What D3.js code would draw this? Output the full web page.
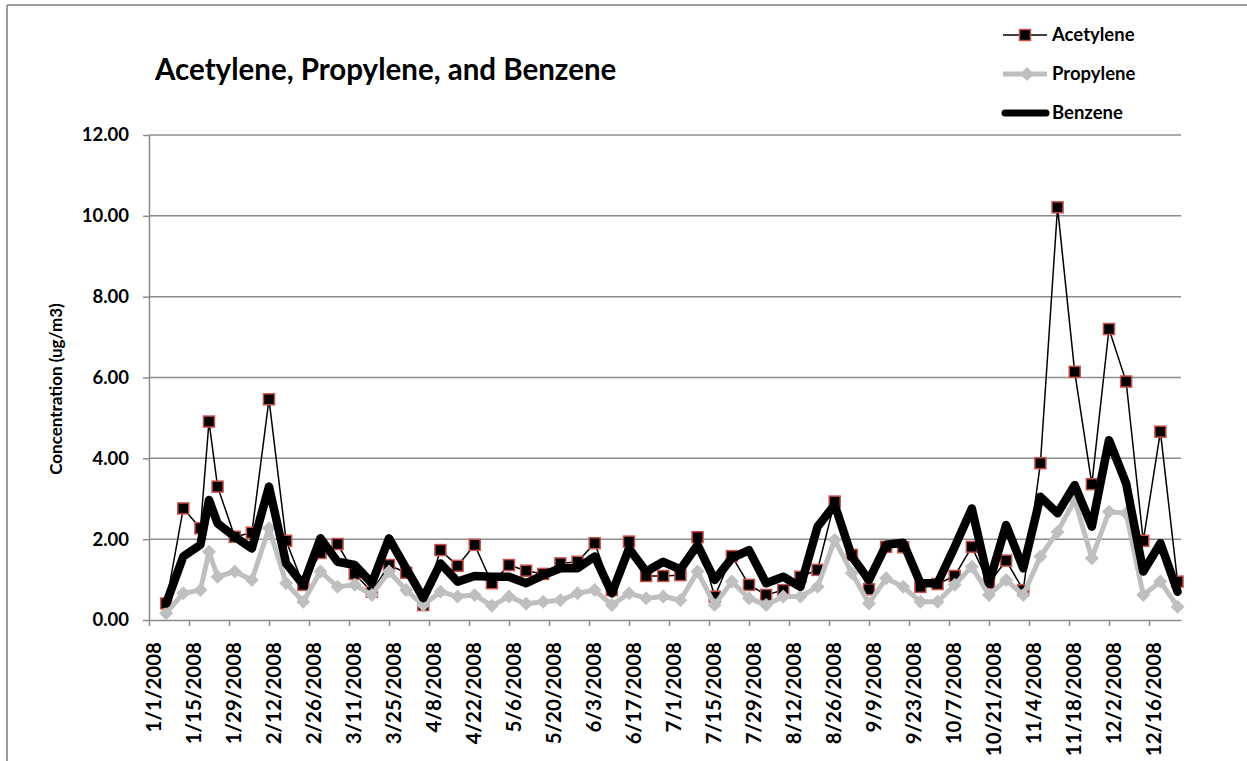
<!DOCTYPE html>
<html>
<head>
<meta charset="utf-8">
<script src="https://cdn.jsdelivr.net/npm/d3@7"></script>
<style>
  body { margin: 0; background: #fff; }
  svg text { font-family: Lato, "Open Sans", sans-serif; font-weight: bold; fill: #000; }
</style>
</head>
<body>
<div id="chart"></div>
<script>
// sample dates (1-in-6 day schedule, plus one extra in January)
var dates = [
  "1/7/2008", "1/13/2008", "1/19/2008", "1/22/2008", "1/25/2008", "1/31/2008",
  "2/6/2008", "2/12/2008", "2/18/2008", "2/24/2008",
  "3/1/2008", "3/7/2008", "3/13/2008", "3/19/2008", "3/25/2008", "3/31/2008",
  "4/6/2008", "4/12/2008", "4/18/2008", "4/24/2008", "4/30/2008",
  "5/6/2008", "5/12/2008", "5/18/2008", "5/24/2008", "5/30/2008",
  "6/5/2008", "6/11/2008", "6/17/2008", "6/23/2008", "6/29/2008",
  "7/5/2008", "7/11/2008", "7/17/2008", "7/23/2008", "7/29/2008",
  "8/4/2008", "8/10/2008", "8/16/2008", "8/22/2008", "8/28/2008",
  "9/3/2008", "9/9/2008", "9/15/2008", "9/21/2008", "9/27/2008",
  "10/3/2008", "10/9/2008", "10/15/2008", "10/21/2008", "10/27/2008",
  "11/2/2008", "11/8/2008", "11/14/2008", "11/20/2008", "11/26/2008",
  "12/2/2008", "12/8/2008", "12/14/2008", "12/20/2008", "12/26/2008"
];

var acetylene = [
  0.41, 2.76, 2.27, 4.91, 3.3, 2.06,
  2.16, 5.46, 1.96, 0.87,
  1.66, 1.88, 1.14, 0.7, 1.36, 1.17,
  0.37, 1.73, 1.34, 1.86, 0.91,
  1.36, 1.22, 1.14, 1.4, 1.44,
  1.9, 0.74, 1.94, 1.09, 1.09,
  1.11, 2.05, 0.58, 1.58, 0.87,
  0.62, 0.74, 1.07, 1.24, 2.93,
  1.61, 0.76, 1.81, 1.8, 0.82,
  0.89, 1.09, 1.81, 0.91, 1.47,
  0.74, 3.88, 10.21, 6.14, 3.36,
  7.2, 5.9, 1.96, 4.66, 0.95
];

var propylene = [
  0.17, 0.66, 0.74, 1.69, 1.07, 1.2,
  0.99, 2.27, 0.91, 0.45,
  1.2, 0.82, 0.87, 0.62, 1.2, 0.74,
  0.37, 0.7, 0.58, 0.62, 0.35,
  0.58, 0.4, 0.45, 0.49, 0.66,
  0.74, 0.37, 0.66, 0.54, 0.58,
  0.49, 1.2, 0.37, 0.95, 0.54,
  0.37, 0.58, 0.58, 0.82, 1.98,
  1.16, 0.41, 1.03, 0.82, 0.45,
  0.45, 0.87, 1.32, 0.62, 0.99,
  0.62, 1.57, 2.18, 2.97, 1.53,
  2.68, 2.64, 0.62, 0.95, 0.33
];

var benzene = [
  0.41, 1.57, 1.86, 2.97, 2.39, 2.06,
  1.77, 3.3, 1.4, 0.87,
  2.02, 1.44, 1.36, 0.91, 2.02, 1.28,
  0.54, 1.4, 0.95, 1.09, 1.07,
  1.07, 0.91, 1.11, 1.28, 1.28,
  1.57, 0.66, 1.77, 1.2, 1.44,
  1.25, 1.86, 0.99, 1.53, 1.73,
  0.91, 1.07, 0.82, 2.31, 2.85,
  1.57, 0.99, 1.86, 1.91, 0.91,
  0.91, 1.81, 2.76, 0.91, 2.35,
  1.28, 3.05, 2.64, 3.34, 2.31,
  4.45, 3.38, 1.2, 1.9, 0.7
];

var yTicks = [0, 2, 4, 6, 8, 10, 12];
var axisStart = "1/1/2008";
var axisEnd = "12/27/2008";
var tickStepDays = 14;

var seriesNames = ["Acetylene", "Propylene", "Benzene"];

var width = 1247,
  height = 761;
var plot = { left: 149, right: 1181, top: 135, bottom: 620 };

var parse = d3.utcParse("%m/%d/%Y");
var fmtDate = d3.utcFormat("%-m/%-d/%Y");

var x = d3
  .scaleUtc()
  .domain([parse(axisStart), d3.utcHour.offset(parse(axisEnd), 5)])
  .range([plot.left, plot.right]);
var y = d3.scaleLinear().domain([0, 12]).range([plot.bottom, plot.top]);

var xTicks = d3
  .range(0, 361, tickStepDays)
  .map(function (d) {
    return d3.utcDay.offset(parse(axisStart), d);
  })
  .filter(function (d) {
    return d <= x.domain()[1];
  });

var svg = d3
  .select("#chart")
  .append("svg")
  .attr("width", width)
  .attr("height", height);

// frame of the embedded chart
svg
  .append("line")
  .attr("x1", 7)
  .attr("x2", width)
  .attr("y1", 5)
  .attr("y2", 5)
  .attr("stroke", "#9d9d9d")
  .attr("stroke-width", 2);
svg
  .append("line")
  .attr("x1", 7)
  .attr("x2", 7)
  .attr("y1", 5)
  .attr("y2", height)
  .attr("stroke", "#9d9d9d")
  .attr("stroke-width", 2);

// gridlines
svg
  .append("g")
  .selectAll("line")
  .data(yTicks.slice(1))
  .enter()
  .append("line")
  .attr("x1", plot.left)
  .attr("x2", plot.right)
  .attr("y1", function (d) {
    return y(d);
  })
  .attr("y2", function (d) {
    return y(d);
  })
  .attr("stroke", "#8c8c8c")
  .attr("stroke-width", 1.5);

// y axis
var yAxis = svg
  .append("g")
  .attr("transform", "translate(" + plot.left + ",0)")
  .call(
    d3
      .axisLeft(y)
      .tickValues(yTicks)
      .tickFormat(d3.format(".2f"))
      .tickSize(6)
      .tickSizeOuter(0)
      .tickPadding(14)
  );
yAxis.selectAll("path, line").attr("stroke", "#8c8c8c").attr("stroke-width", 1.5);
yAxis.selectAll("text").style("font-size", "18.5px").attr("fill", "#000");

// x axis
var xAxis = svg
  .append("g")
  .attr("transform", "translate(0," + plot.bottom + ")")
  .call(
    d3
      .axisBottom(x)
      .tickValues(xTicks)
      .tickFormat(fmtDate)
      .tickSize(6)
      .tickSizeOuter(0)
  );
xAxis.selectAll("path, line").attr("stroke", "#8c8c8c").attr("stroke-width", 1.5);
xAxis
  .selectAll("text")
  .style("font-size", "20.5px")
  .attr("fill", "#000")
  .attr("text-anchor", "end")
  .attr("transform", "rotate(-90)")
  .attr("x", -22)
  .attr("y", 4)
  .attr("dy", "0.35em");

// y axis title
svg
  .append("text")
  .attr("transform", "translate(62,389) rotate(-90)")
  .attr("text-anchor", "middle")
  .style("font-size", "17px")
  .text("Concentration (ug/m3)");

// chart title
svg
  .append("text")
  .attr("x", 155)
  .attr("y", 80)
  .style("font-size", "29.5px")
  .text("Acetylene, Propylene, and Benzene");

function points(values) {
  return values.map(function (v, i) {
    return { date: parse(dates[i]), value: v };
  });
}

var line = d3
  .line()
  .x(function (d) {
    return x(d.date);
  })
  .y(function (d) {
    return y(d.value);
  });

var diamond = "M0,-7L7,0L0,7L-7,0Z";

// Acetylene
var aData = points(acetylene);
svg
  .append("path")
  .datum(aData)
  .attr("fill", "none")
  .attr("stroke", "#000")
  .attr("stroke-width", 1.5)
  .attr("d", line);
svg
  .append("g")
  .selectAll("rect")
  .data(aData)
  .enter()
  .append("rect")
  .attr("x", function (d) {
    return x(d.date) - 5.5;
  })
  .attr("y", function (d) {
    return y(d.value) - 5.5;
  })
  .attr("width", 11)
  .attr("height", 11)
  .attr("fill", "#000")
  .attr("stroke", "#c9504d")
  .attr("stroke-width", 1.5);

// Propylene
var pData = points(propylene);
svg
  .append("path")
  .datum(pData)
  .attr("fill", "none")
  .attr("stroke", "#bfbfbf")
  .attr("stroke-width", 5)
  .attr("stroke-linejoin", "round")
  .attr("d", line);
svg
  .append("g")
  .selectAll("path")
  .data(pData)
  .enter()
  .append("path")
  .attr("transform", function (d) {
    return "translate(" + x(d.date) + "," + y(d.value) + ")";
  })
  .attr("d", diamond)
  .attr("fill", "#bfbfbf");

// Benzene
svg
  .append("path")
  .datum(points(benzene))
  .attr("fill", "none")
  .attr("stroke", "#000")
  .attr("stroke-width", 8.5)
  .attr("stroke-linejoin", "round")
  .attr("stroke-linecap", "round")
  .attr("d", line);

// legend
var legend = svg.append("g").attr("transform", "translate(1003,0)");
var legendY = [35, 74, 113];

legend
  .append("line")
  .attr("x1", 0)
  .attr("x2", 44)
  .attr("y1", legendY[0])
  .attr("y2", legendY[0])
  .attr("stroke", "#000")
  .attr("stroke-width", 1.5);
legend
  .append("rect")
  .attr("x", 22 - 5.5)
  .attr("y", legendY[0] - 5.5)
  .attr("width", 11)
  .attr("height", 11)
  .attr("fill", "#000")
  .attr("stroke", "#c9504d")
  .attr("stroke-width", 1.5);

legend
  .append("line")
  .attr("x1", 0)
  .attr("x2", 44)
  .attr("y1", legendY[1])
  .attr("y2", legendY[1])
  .attr("stroke", "#bfbfbf")
  .attr("stroke-width", 5);
legend
  .append("path")
  .attr("transform", "translate(24," + legendY[1] + ")")
  .attr("d", diamond)
  .attr("fill", "#bfbfbf");

legend
  .append("line")
  .attr("x1", 2)
  .attr("x2", 43)
  .attr("y1", legendY[2])
  .attr("y2", legendY[2])
  .attr("stroke", "#000")
  .attr("stroke-width", 7)
  .attr("stroke-linecap", "round");

legend
  .selectAll("text")
  .data(seriesNames)
  .enter()
  .append("text")
  .attr("x", 49)
  .attr("y", function (d, i) {
    return legendY[i];
  })
  .attr("dy", "0.35em")
  .style("font-size", "18.5px")
  .text(function (d) {
    return d;
  });
</script>
</body>
</html>
